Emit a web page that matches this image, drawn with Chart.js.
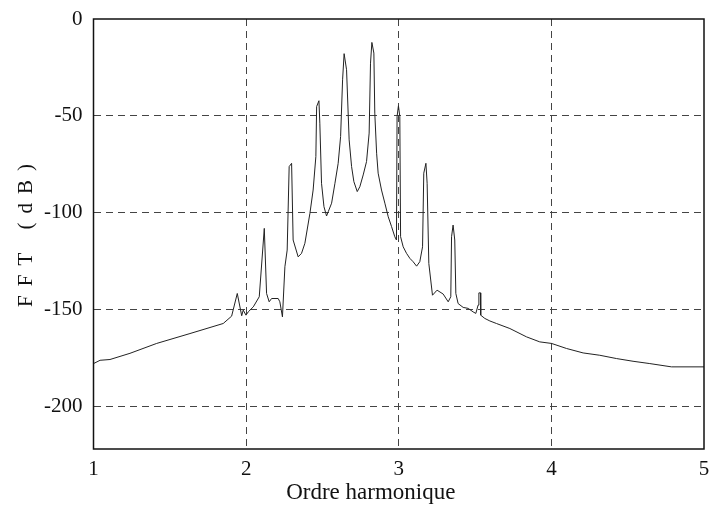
<!DOCTYPE html>
<html>
<head>
<meta charset="utf-8">
<script src="https://cdn.jsdelivr.net/npm/chart.js@4/dist/chart.umd.min.js"></script>
<style>
html,body{margin:0;padding:0;background:#fff;}
#wrap{width:709px;height:509px;}
</style>
</head>
<body>
<div id="wrap"><canvas id="c" width="709" height="509"></canvas></div>
<script>
// Harmonic order (x) values
const harmonicOrder = [
 1.000,1.043,1.108,1.239,1.414,1.632,1.850,1.905,1.942,1.971,1.981,1.999,2.014,2.047,2.086,2.119,
 2.134,2.151,2.167,2.210,2.221,2.238,2.254,2.269,2.282,2.298,2.308,2.341,2.363,2.385,2.418,2.439,
 2.457,2.462,2.477,2.483,2.494,2.510,2.527,2.538,2.560,2.582,2.603,2.619,2.632,2.642,2.658,2.675,
 2.691,2.706,2.728,2.745,2.767,2.789,2.806,2.815,2.824,2.837,2.843,2.855,2.865,2.887,2.909,2.931,
 2.953,2.974,2.985,2.989,2.998,3.007,3.012,3.029,3.051,3.073,3.094,3.117,3.138,3.156,3.164,3.178,
 3.186,3.197,3.221,3.251,3.291,3.324,3.341,3.346,3.356,3.367,3.374,3.389,3.422,3.455,3.487,3.505,
 3.520,3.525,3.536,3.537,3.564,3.597,3.640,3.728,3.837,3.924,4.001,4.099,4.208,4.317,4.426,4.535,
 4.645,4.787,5.000
];
// FFT magnitude in dB
const fftDb = [
 -177.9,-176.2,-175.8,-172.6,-167.5,-162.4,-157.2,-153.4,-141.7,-153.2,-150.3,-152.9,-151.2,-148.6,-143.4,-108.1,
 -141.7,-146.0,-144.3,-144.3,-146.0,-153.8,-127.9,-119.3,-76.2,-74.5,-114.1,-122.8,-121.0,-115.8,-100.3,-88.3,
 -71.0,-45.2,-42.2,-53.8,-84.8,-96.9,-101.7,-99.5,-95.1,-84.8,-74.5,-60.7,-31.4,-17.9,-26.2,-62.4,
 -76.2,-84.0,-89.1,-86.6,-80.5,-73.6,-58.9,-22.8,-12.1,-17.6,-48.6,-69.3,-79.6,-88.3,-95.1,-102.1,
 -107.2,-112.4,-114.1,-50.4,-44.8,-50.4,-112.4,-117.6,-121.0,-123.6,-125.3,-127.6,-125.3,-117.6,-79.6,-74.5,
 -84.8,-126.2,-142.6,-140.0,-142.0,-146.0,-143.4,-112.4,-106.4,-114.1,-141.7,-146.9,-148.9,-149.4,-151.2,-152.0,
 -147.7,-141.4,-141.4,-152.9,-154.6,-155.9,-157.2,-159.8,-164.1,-166.7,-167.5,-170.1,-172.4,-173.6,-175.3,-176.7,
 -177.9,-179.6,-179.6
];
const xTicks = [1,2,3,4,5];
const yTicks = [0,-50,-100,-150,-200];
const xLabel = "Ordre harmonique";
const yLabel = "FFT (dB)";

const points = harmonicOrder.map((x,i)=>({x:x,y:fftDb[i]}));
const FONT = "'Liberation Serif','Times New Roman',serif";

const framePlugin = {
  id:'frame',
  afterDraw(chart){
    const {ctx, chartArea:a} = chart;
    ctx.save();
    ctx.strokeStyle = '#111';
    ctx.lineWidth = 1.5;
    ctx.strokeRect(a.left, a.top, a.right-a.left, a.bottom-a.top);
    ctx.fillStyle = '#111';
    ctx.textAlign = 'center';
    ctx.textBaseline = 'middle';
    // x axis title
    ctx.font = "23px " + FONT;
    ctx.fillText(xLabel, (a.left+a.right)/2 - 28, a.bottom + 44);
    // y axis title, letter-spaced as in the reference
    ctx.font = "21px " + FONT;
    ctx.translate(26, (a.top+a.bottom)/2 + 1);
    ctx.rotate(-Math.PI/2);
    ctx.letterSpacing = '9px';
    ctx.fillText(yLabel, 4, 0);
    ctx.restore();
  }
};

new Chart(document.getElementById('c'), {
  type:'line',
  data:{datasets:[{data:points,borderColor:'#222',borderWidth:1,pointRadius:0,tension:0,fill:false}]},
  options:{
    responsive:false,
    animation:false,
    events:[],
    layout:{padding:{top:19,right:5,left:0,bottom:0}},
    plugins:{legend:{display:false},tooltip:{enabled:false}},
    scales:{
      x:{
        type:'linear',min:1,max:5,
        afterBuildTicks(s){ s.ticks = xTicks.map(v=>({value:v})); },
        afterFit(s){ s.height = 60; s.paddingRight = 0; s.paddingLeft = 0; },
        grid:{
          drawTicks:false,
          color:(c)=> (c.tick && (c.tick.value===1||c.tick.value===5)) ? 'rgba(0,0,0,0)' : '#444',
          lineWidth:1
        },
        border:{display:false, dash:[7,5]},
        ticks:{color:'#111',font:{family:FONT,size:21},padding:8,maxRotation:0,
          callback:(v)=>String(v)}
      },
      y:{
        type:'linear',min:-222,max:0,
        afterBuildTicks(s){ s.ticks = yTicks.map(v=>({value:v})); },
        afterFit(s){ s.width = 93.5; s.paddingTop = 0; s.paddingBottom = 0; },
        grid:{
          drawTicks:false,
          color:(c)=> (c.tick && c.tick.value===0) ? 'rgba(0,0,0,0)' : '#444',
          lineWidth:1
        },
        border:{display:false, dash:[7,5]},
        ticks:{color:'#111',font:{family:FONT,size:21},padding:11,
          callback:(v)=>String(v)}
      }
    }
  },
  plugins:[framePlugin]
});
</script>
</body>
</html>
